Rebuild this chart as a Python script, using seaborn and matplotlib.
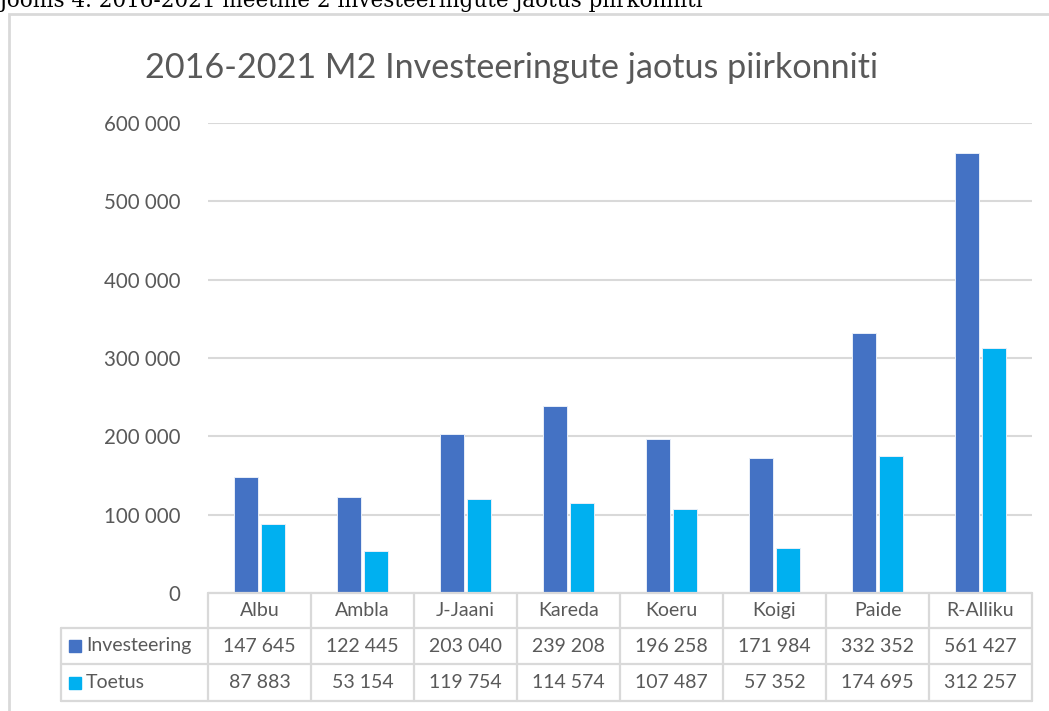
import numpy as np
import pandas as pd
import seaborn as sns
import matplotlib.pyplot as plt
from matplotlib.lines import Line2D
from matplotlib.patches import Rectangle
from matplotlib.transforms import blended_transform_factory

# Data
piirkonnad = ["Albu", "Ambla", "J-Jaani", "Kareda", "Koeru", "Koigi", "Paide", "R-Alliku"]
investeering = [147645, 122445, 203040, 239208, 196258, 171984, 332352, 561427]
toetus = [87883, 53154, 119754, 114574, 107487, 57352, 174695, 312257]
seeriad = ["Investeering", "Toetus"]
varvid = ["#4472C4", "#00B0F0"]
y_ticks = [0, 100000, 200000, 300000, 400000, 500000, 600000]
pealkiri = "2016-2021 M2 Investeeringute jaotus piirkonniti"
allkiri = "Joonis 4. 2016-2021 meetme 2 investeeringute jaotus piirkonniti"

df = pd.DataFrame({"piirkond": piirkonnad, "Investeering": investeering, "Toetus": toetus})
df_long = df.melt(id_vars="piirkond", var_name="sari", value_name="summa")


def fmt(v):
    return f"{v:,}".replace(",", " ")


sns.set_style("white")
plt.rcParams["font.family"] = ["Lato", "DejaVu Sans"]
grey = "#595959"
line_grey = "#d9d9d9"

W, H = 1049, 711
fig = plt.figure(figsize=(W / 100, H / 100), dpi=100)


def fx(px):
    return px / W


def fy(py):
    return 1 - py / H


# chart frame (runs past right and bottom edge)
fig.patches.append(Rectangle((fx(9), fy(740)), fx(1100) - fx(9), fy(14) - fy(740),
                             transform=fig.transFigure, fill=False,
                             edgecolor=line_grey, lw=2))

# caption of the figure, cut at the top like in the page scan
fig.text(fx(-1), fy(7), allkiri, family="DejaVu Serif", fontsize=15.5,
         color="black", ha="left", va="baseline")

ax = fig.add_axes([fx(208), fy(593), fx(1032) - fx(208), fy(123) - fy(593)])
sns.barplot(data=df_long, x="piirkond", y="summa", hue="sari", hue_order=seeriad,
            palette=varvid, saturation=1, width=0.52, gap=0.1, edgecolor="#e8eef8",
            linewidth=0.7, legend=False, ax=ax)

ax.set_xlim(-0.5, len(piirkonnad) - 0.5)
ax.set_ylim(0, 600000)
ax.set_yticks(y_ticks)
ax.set_yticklabels([fmt(v) for v in y_ticks], fontsize=14.8, color=grey)
ax.tick_params(axis="y", length=0, pad=20)
ax.set_xticks([])
ax.set_xlabel("")
ax.set_ylabel("")
ax.yaxis.grid(True, color=line_grey, lw=1.5)
ax.set_axisbelow(True)
sns.despine(ax=ax, left=True, bottom=True)

fig.text(fx(512), fy(68), pealkiri, fontsize=24.6, color=grey, ha="center", va="center")

# data table under the axis
tr = blended_transform_factory(ax.transData, fig.transFigure)
rows = [593, 628, 664, 701]
n = len(piirkonnad)

fig.add_artist(Line2D([-0.5, n - 0.5], [fy(rows[0]), fy(rows[0])], transform=tr,
                      color=line_grey, lw=1.6, clip_on=False))
for y in rows[1:]:
    fig.add_artist(Line2D([fx(61), fx(1032)], [fy(y), fy(y)], transform=fig.transFigure,
                          color=line_grey, lw=1.6, clip_on=False))
for i in range(n + 1):
    fig.add_artist(Line2D([i - 0.5, i - 0.5], [fy(rows[0]), fy(rows[3])], transform=tr,
                          color=line_grey, lw=1.6, clip_on=False))
fig.add_artist(Line2D([fx(61), fx(61)], [fy(rows[1]), fy(rows[3])], transform=fig.transFigure,
                      color=line_grey, lw=1.6, clip_on=False))

fs_tab = 14
for i, p in enumerate(piirkonnad):
    fig.text(i, fy((rows[0] + rows[1]) / 2), p, transform=tr, ha="center", va="center",
             fontsize=fs_tab, color=grey)
for r, (sari, vals, c) in enumerate(zip(seeriad, [investeering, toetus], varvid)):
    yc = (rows[r + 1] + rows[r + 2]) / 2
    for i, v in enumerate(vals):
        fig.text(i, fy(yc), fmt(v), transform=tr, ha="center", va="center",
                 fontsize=fs_tab, color=grey)
    fig.patches.append(Rectangle((fx(69), fy(yc + 6)), fx(12), 12 / H,
                                 transform=fig.transFigure, color=c))
    fig.text(fx(86), fy(yc), sari, ha="left", va="center", fontsize=fs_tab, color=grey)

fig.savefig("out.png", dpi=100)
